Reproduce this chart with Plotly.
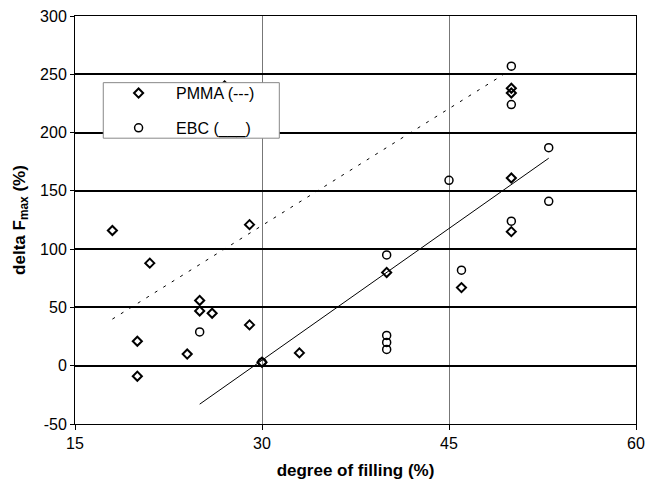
import plotly.graph_objects as go

# PMMA data (diamonds)
pmma_x = [18, 20, 20, 21, 24, 25, 25, 26, 27, 29, 29, 30, 33, 40, 46, 50, 50, 50, 50]
pmma_y = [116, 21, -9, 88, 10, 56, 47, 45, 240, 121, 35, 3, 11, 80, 67, 238, 234, 161, 115]

# EBC data (circles)
ebc_x = [25, 30, 40, 40, 40, 40, 45, 46, 50, 50, 50, 53, 53]
ebc_y = [29, 3, 95, 26, 20, 14, 159, 82, 257, 224, 124, 187, 141]

# Trend lines (endpoints)
pmma_trend_x = [18, 50]
pmma_trend_y = [40, 254]
ebc_trend_x = [25, 53]
ebc_trend_y = [-33, 178]

x_ticks = [15, 30, 45, 60]
y_ticks = [-50, 0, 50, 100, 150, 200, 250, 300]

FONT = "Liberation Sans, Arial, sans-serif"

fig = go.Figure()

fig.add_trace(go.Scatter(
    x=pmma_trend_x, y=pmma_trend_y, mode="lines",
    line=dict(color="black", width=1, dash="3px,7px"),
    showlegend=False, hoverinfo="skip"))
fig.add_trace(go.Scatter(
    x=ebc_trend_x, y=ebc_trend_y, mode="lines",
    line=dict(color="black", width=1),
    showlegend=False, hoverinfo="skip"))

fig.add_trace(go.Scatter(
    x=pmma_x, y=pmma_y, mode="markers", name="PMMA (---)",
    legendgroup="a",
    marker=dict(symbol="diamond-open", size=7, color="black",
                line=dict(width=2, color="black"))))
fig.add_trace(go.Scatter(
    x=ebc_x, y=ebc_y, mode="markers", name="EBC (___)",
    legendgroup="b",
    marker=dict(symbol="circle-open", size=8, color="black",
                line=dict(width=1.5, color="black"))))

# legend box (drawn as a white framed rectangle above the data)
fig.add_shape(type="rect", xref="paper", yref="paper",
              x0=0.0504, x1=0.3642, y0=0.7005, y1=0.8366,
              fillcolor="white", line=dict(color="#888888", width=1),
              layer="above")

fig.update_layout(
    width=648, height=489,
    margin=dict(l=75, r=12, t=16, b=65),
    paper_bgcolor="white", plot_bgcolor="white",
    font=dict(family=FONT, size=16, color="black"),
    showlegend=True,
    legend=dict(
        x=0.0465, y=0.8526, xanchor="left", yanchor="top",
        bgcolor="rgba(0,0,0,0)", borderwidth=0,
        font=dict(family=FONT, size=16, color="black"),
        traceorder="grouped", tracegroupgap=11,
        itemwidth=65,
    ),
    xaxis=dict(
        range=[15, 60], tickvals=x_ticks, ticktext=[str(v) for v in x_ticks],
        showgrid=True, gridcolor="#777777", gridwidth=1,
        showline=True, linecolor="black", linewidth=1, mirror=True,
        ticks="outside", ticklen=5, tickcolor="black",
        zeroline=False, automargin=False,
        title=dict(text="degree of filling (%)", standoff=12,
                   font=dict(family=FONT, size=17, weight="bold")),
    ),
    yaxis=dict(
        range=[-50, 300], tickvals=y_ticks, ticktext=[str(v) for v in y_ticks],
        showgrid=True, gridcolor="black", gridwidth=2,
        showline=True, linecolor="black", linewidth=1, mirror=True,
        ticks="outside", ticklen=4, tickcolor="black",
        zeroline=False, automargin=False,
        title=dict(text="delta F<sub>max</sub> (%)", standoff=10,
                   font=dict(family=FONT, size=17, weight="bold")),
    ),
)

fig.write_html("out.html")
